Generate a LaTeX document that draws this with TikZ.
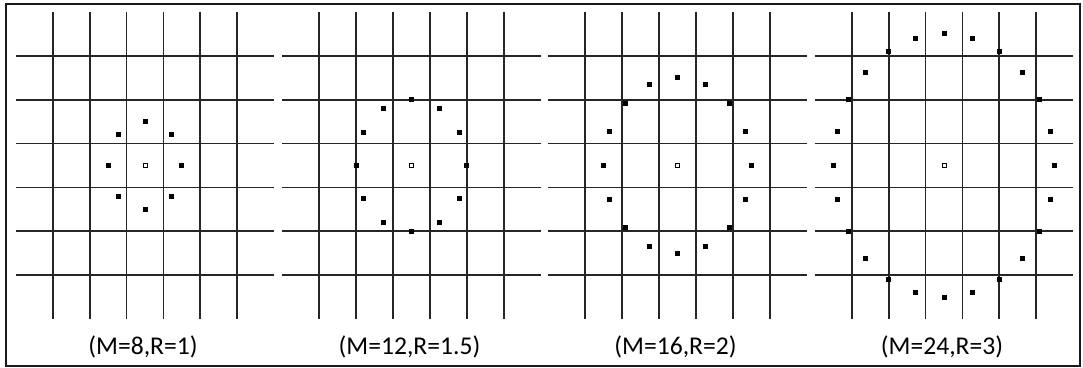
\documentclass[tikz,border=0pt]{standalone}
\usepackage{fontspec}
\setmainfont{Carlito}
\begin{document}
\begin{tikzpicture}[x=1pt,y=-1pt,
 gridline/.style={line width=1.8pt, draw=black!85},
 pt/.style={fill=black, inner sep=0pt, minimum size=5pt, rectangle},
 ctr/.style={draw=black, fill=white, line width=0.9pt, inner sep=0pt, minimum size=4pt, rectangle},
 lbl/.style={font=\fontsize{25.6}{30}\selectfont, text=black},
 frame/.style={line width=1.6pt, draw=black!90}]
\useasboundingbox (0,0) rectangle (1083,367);
\draw[frame] (6,4) rectangle (1080,366);
\def\w{36.9}\def\h{43.9}\def\cy{165.5}
\foreach \cx/\M/\R/\lab [count=\i] in {145/8/1/{(M=8,R=1)}, 411.5/12/1.5/{(M=12,R=1.5)}, 677.5/16/2/{(M=16,R=2)}, 944/24/3/{(M=24,R=3)}} {
  \foreach \k in {0,...,5} {
    \draw[gridline] ({\cx+(\k-2.5)*\w},{\cy-3.5*\h}) -- ({\cx+(\k-2.5)*\w},{\cy+3.5*\h});
    \draw[gridline] ({\cx-3.5*\w},{\cy+(\k-2.5)*\h}) -- ({\cx+3.5*\w},{\cy+(\k-2.5)*\h});
  }
  \node[ctr] (c\i) at (\cx,\cy) {};
  \pgfmathtruncatemacro\Mm{\M-1}
  \foreach \j in {0,...,\Mm} {
    \node[pt] (p\i-\j) at ({\cx+\R*\w*cos(360*\j/\M)},{\cy-\R*\h*sin(360*\j/\M)}) {};
  }
  \node[lbl] (l\i) at (\cx-2,347) {\lab};
}
\end{tikzpicture}
\end{document}
